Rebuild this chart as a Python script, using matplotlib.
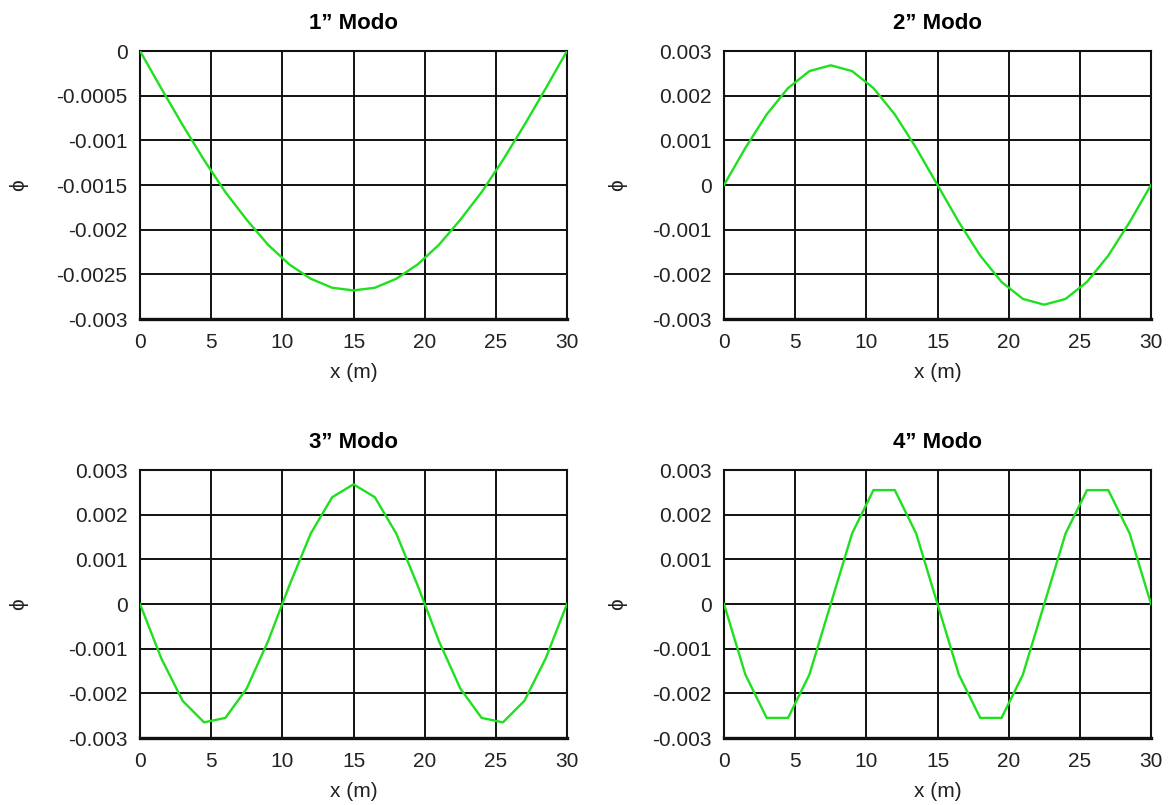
import numpy as np
import matplotlib
matplotlib.use('Agg')
import matplotlib.pyplot as plt
from matplotlib.ticker import FuncFormatter

plt.rcParams['font.family'] = ['Liberation Sans', 'DejaVu Sans']

# posizioni lungo la trave (m)
x = [0, 1.5, 3, 4.5, 6, 7.5, 9, 10.5, 12, 13.5, 15,
     16.5, 18, 19.5, 21, 22.5, 24, 25.5, 27, 28.5, 30]

# forme modali
modo1 = [0, -0.00042, -0.00083, -0.00122, -0.00158, -0.00189, -0.00217,
         -0.00239, -0.00255, -0.00265, -0.00268, -0.00265, -0.00255,
         -0.00239, -0.00217, -0.00189, -0.00158, -0.00122, -0.00083,
         -0.00042, 0]
modo2 = [0, 0.00083, 0.00158, 0.00217, 0.00255, 0.00268, 0.00255,
         0.00217, 0.00158, 0.00083, 0, -0.00083, -0.00158, -0.00217,
         -0.00255, -0.00268, -0.00255, -0.00217, -0.00158, -0.00083, 0]
modo3 = [0, -0.00122, -0.00217, -0.00265, -0.00255, -0.00189, -0.00083,
         0.00042, 0.00158, 0.00239, 0.00268, 0.00239, 0.00158, 0.00042,
         -0.00083, -0.00189, -0.00255, -0.00265, -0.00217, -0.00122, 0]
modo4 = [0, -0.00158, -0.00255, -0.00255, -0.00158, 0, 0.00158, 0.00255,
         0.00255, 0.00158, 0, -0.00158, -0.00255, -0.00255, -0.00158, 0,
         0.00158, 0.00255, 0.00255, 0.00158, 0]

titoli = [u'1\u201d Modo', u'2\u201d Modo', u'3\u201d Modo', u'4\u201d Modo']
modi = [modo1, modo2, modo3, modo4]
x_ticks = [0, 5, 10, 15, 20, 25, 30]
y_ticks_1 = [0, -0.0005, -0.001, -0.0015, -0.002, -0.0025, -0.003]
y_ticks = [-0.003, -0.002, -0.001, 0, 0.001, 0.002, 0.003]

W, H = 1173, 805
fig = plt.figure(figsize=(W / 100.0, H / 100.0), dpi=100)

# riquadri in pixel: (sinistra, alto, destra, basso)
box = [(140, 51, 567, 319), (724, 51, 1151, 319),
       (140, 470, 567, 738), (724, 470, 1151, 738)]
phi_x = [-0.262, -0.226, -0.262, -0.226]

verde = '#1fe01f'

for i in range(4):
    l, t, r, b = box[i]
    ax = fig.add_axes([l / W, 1 - b / H, (r - l) / W, (b - t) / H])
    ax.plot(x, modi[i], color=verde, lw=1.7, zorder=3)

    ax.set_xlim(0, 30)
    ax.set_xticks(x_ticks)
    if i == 0:
        ax.set_ylim(-0.003, 0)
        ax.set_yticks(y_ticks_1)
    else:
        ax.set_ylim(-0.003, 0.003)
        ax.set_yticks(y_ticks)
    ax.yaxis.set_major_formatter(FuncFormatter(lambda v, p: '%g' % round(v, 6)))

    ax.grid(True, color='#111111', lw=1.4, zorder=1)
    ax.set_axisbelow(True)
    for s in ax.spines.values():
        s.set_color('#111111')
        s.set_linewidth(1.5)
    ax.spines['bottom'].set_linewidth(2.4)

    ax.tick_params(length=0, labelsize=15, colors='#222222')
    ax.tick_params(axis='x', pad=10)
    ax.tick_params(axis='y', pad=9)

    ax.set_title(titoli[i], fontsize=16, fontweight='bold', pad=16)
    ax.set_xlabel('x (m)', fontsize=15, labelpad=8, color='#222222')
    ax.set_ylabel(u'\u03d5', fontsize=15, color='#222222')
    ax.yaxis.set_label_coords(phi_x[i], 0.5)

fig.savefig('out.png', dpi=100)
